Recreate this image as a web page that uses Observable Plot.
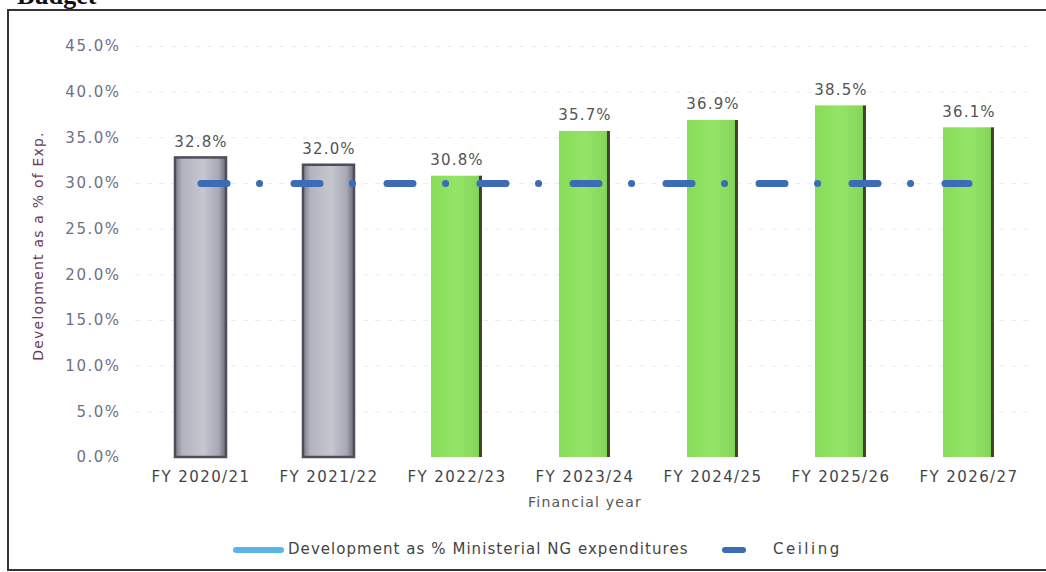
<!DOCTYPE html>
<html>
<head>
<meta charset="utf-8">
<script src="https://cdn.jsdelivr.net/npm/d3@7"></script>
<script src="https://cdn.jsdelivr.net/npm/@observablehq/plot@0.6"></script>
<style>
  html, body { margin: 0; padding: 0; background: #fff; width: 1046px; height: 572px; overflow: hidden; }
  #title { position: absolute; left: 17px; top: -19px; font: bold 26px "Liberation Serif", serif; color: #111; }
  #frame { position: absolute; left: 7px; top: 9px; width: 1100px; height: 558px; border: 2px solid #333; border-right: none; }
  #chart { position: absolute; left: 0; top: 0; }
  #legend { position: absolute; top: 539px; left: 0; width: 1046px; height: 22px; font: 15px "DejaVu Sans", sans-serif; color: #444; }
  .sw { position: absolute; top: 8px; height: 6px; border-radius: 3px; }
  .lt { position: absolute; top: 1px; white-space: nowrap; }
</style>
</head>
<body>
<div id="title">Budget</div>
<div id="frame"></div>
<div id="chart"></div>
<div id="legend">
  <div class="sw" style="left:233px;width:51px;background:#5ab4e6;"></div>
  <div class="lt" style="left:288px;letter-spacing:1.05px;">Development as % Ministerial NG expenditures</div>
  <div class="sw" style="left:722px;width:24px;background:#3d6cb6;"></div>
  <div class="lt" style="left:773px;letter-spacing:2.5px;">Ceiling</div>
</div>
<script>
const years = ["FY 2020/21", "FY 2021/22", "FY 2022/23", "FY 2023/24", "FY 2024/25", "FY 2025/26", "FY 2026/27"];
const development = [32.8, 32.0, 30.8, 35.7, 36.9, 38.5, 36.1];
const ceiling = [30.0, 30.0, 30.0, 30.0, 30.0, 30.0, 30.0];
const kind = ["actual", "actual", "projected", "projected", "projected", "projected", "projected"];
const yTicks = [0, 5, 10, 15, 20, 25, 30, 35, 40, 45];

const data = years.map((y, i) => ({year: y, dev: development[i], ceil: ceiling[i], kind: kind[i]}));

const plot = Plot.plot({
  width: 1046,
  height: 520,
  marginLeft: 135,
  marginRight: 12,
  marginTop: 46,
  marginBottom: 63,
  style: {fontFamily: "DejaVu Sans, sans-serif", fontSize: "14px", color: "#555", background: "transparent"},
  x: {domain: years, paddingInner: 0.6, paddingOuter: 0.3, label: null},
  y: {domain: [0, 45], label: null},
  marks: [
    Plot.ruleY(yTicks.slice(1), {stroke: "#ebebeb", strokeDasharray: "5,7"}),
    Plot.axisY({ticks: yTicks, tickSize: 0, tickPadding: 15, tickFormat: d => d.toFixed(1) + "%", fill: "#6e7186", fontSize: 15}),
    Plot.axisX({tickSize: 0, tickPadding: 14, fill: "#444", fontSize: 15, label: null}),
    Plot.barY(data.filter(d => d.kind === "actual"), {x: "year", y: "dev", fill: "url(#greyGrad)", stroke: "#4e4e5a", strokeWidth: 2.5}),
    Plot.barY(data.filter(d => d.kind === "projected"), {x: "year", y: "dev", fill: "url(#greenGrad)"}),
    Plot.text(data, {x: "year", y: "dev", text: d => d.dev.toFixed(1) + "%", lineAnchor: "bottom", dy: -11, fill: "#555", fontSize: 15}),
    Plot.lineY(data, {x: "year", y: "ceil", stroke: "#3d6cb6", strokeWidth: 7, strokeLinecap: "round", strokeDasharray: "26 32.5 0.1 34.4"}),
    Plot.text(["Financial year"], {frameAnchor: "bottom", dy: 45, fill: "#555", fontSize: 14, lineAnchor: "middle"}),
    Plot.text(["Development as a % of Exp."], {frameAnchor: "left", textAnchor: "middle", dx: -97, dy: -6, rotate: -90, fill: "#6a3d5e", fontSize: 14})
  ]
});

const svgns = "http://www.w3.org/2000/svg";
const defs = document.createElementNS(svgns, "defs");
defs.innerHTML = `
  <linearGradient id="greyGrad" x1="0" x2="1" y1="0" y2="0">
    <stop offset="0" stop-color="#7c7c8a"/>
    <stop offset="0.15" stop-color="#b4b4c0"/>
    <stop offset="0.55" stop-color="#c6c6ce"/>
    <stop offset="0.85" stop-color="#a8a8b6"/>
    <stop offset="1" stop-color="#6a6a78"/>
  </linearGradient>
  <linearGradient id="greenGrad" x1="0" x2="1" y1="0" y2="0">
    <stop offset="0" stop-color="#86dc58"/>
    <stop offset="0.5" stop-color="#94e468"/>
    <stop offset="0.93" stop-color="#86d65a"/>
    <stop offset="0.95" stop-color="#3c4a24"/>
    <stop offset="1" stop-color="#3c4a24"/>
  </linearGradient>`;
plot.insertBefore(defs, plot.firstChild);
plot.querySelectorAll("[aria-label='x-axis tick label'] text").forEach(t => t.style.letterSpacing = "1.4px");
plot.querySelectorAll("[aria-label='y-axis tick label'] text").forEach(t => t.style.letterSpacing = "1.5px");
plot.querySelectorAll("[aria-label='text'] text").forEach(t => t.style.letterSpacing = "1.2px");
document.getElementById("chart").appendChild(plot);
</script>
</body>
</html>
